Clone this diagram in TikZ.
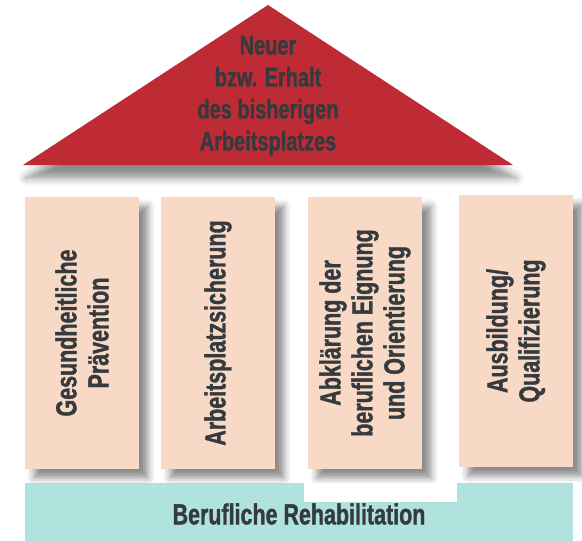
\documentclass[tikz,border=0pt]{standalone}
\usepackage{fontspec}
\setmainfont{Liberation Sans}[FakeStretch=0.74, BoldFeatures={FakeBold=1.2}]
\usetikzlibrary{shadows.blur}
\definecolor{roofred}{HTML}{BE2B34}
\definecolor{pillarpeach}{HTML}{F8D9C5}
\definecolor{rehabcyan}{HTML}{B1E3DE}
\definecolor{textgray}{HTML}{343A3E}
\begin{document}
\begin{tikzpicture}[x=1pt, y=-1pt,
  softshadow/.style={blur shadow={shadow xshift=9pt, shadow yshift=-9pt, shadow opacity=45, shadow blur radius=7pt}},
  pillarbox/.style={fill=pillarpeach, minimum width=114pt, minimum height=272pt, inner sep=0pt, softshadow},
  pillartext/.style={rotate=90, align=center, text=textgray, font=\bfseries\fontsize{29}{32}\selectfont},
  rooftext/.style={align=center, text=textgray, font=\bfseries\fontsize{27}{32}\selectfont}]
\useasboundingbox (0,0) rectangle (582,541);
% Roof
\fill[roofred, blur shadow={shadow xshift=3pt, shadow yshift=-13pt, shadow opacity=45, shadow blur radius=8pt}] (23,165) -- (268,5) -- (513,165) -- cycle;
\node[rooftext] (roof) at (268,96) {Neuer\\bzw. Erhalt\\des bisherigen\\Arbeitsplatzes};
% Pillars
\node[pillarbox] (praev) at (82,333) {};
\node[pillarbox] (sicher) at (218,333) {};
\node[pillarbox] (eignung) at (365,333) {};
\node[pillarbox] (quali) at (516,331) {};
\node[pillartext] (praevtext) at (praev) {Gesundheitliche\\Prävention};
\node[pillartext] (sichertext) at (sicher) {Arbeitsplatzsicherung};
\node[pillartext] (eignungtext) at (eignung) {Abklärung der\\beruflichen Eignung\\und Orientierung};
\node[pillartext] (qualitext) at (quali) {Ausbildung/\\Qualifizierung};
% Base
\node[fill=rehabcyan, minimum width=548pt, minimum height=58pt, inner sep=0pt] (rehab) at (299,512) {};
\fill[white] (304,483) rectangle (457,502);
\node[text=textgray, font=\bfseries\fontsize{29}{32}\selectfont] (rehabtext) at (299,514) {Berufliche Rehabilitation};
\end{tikzpicture}
\end{document}
